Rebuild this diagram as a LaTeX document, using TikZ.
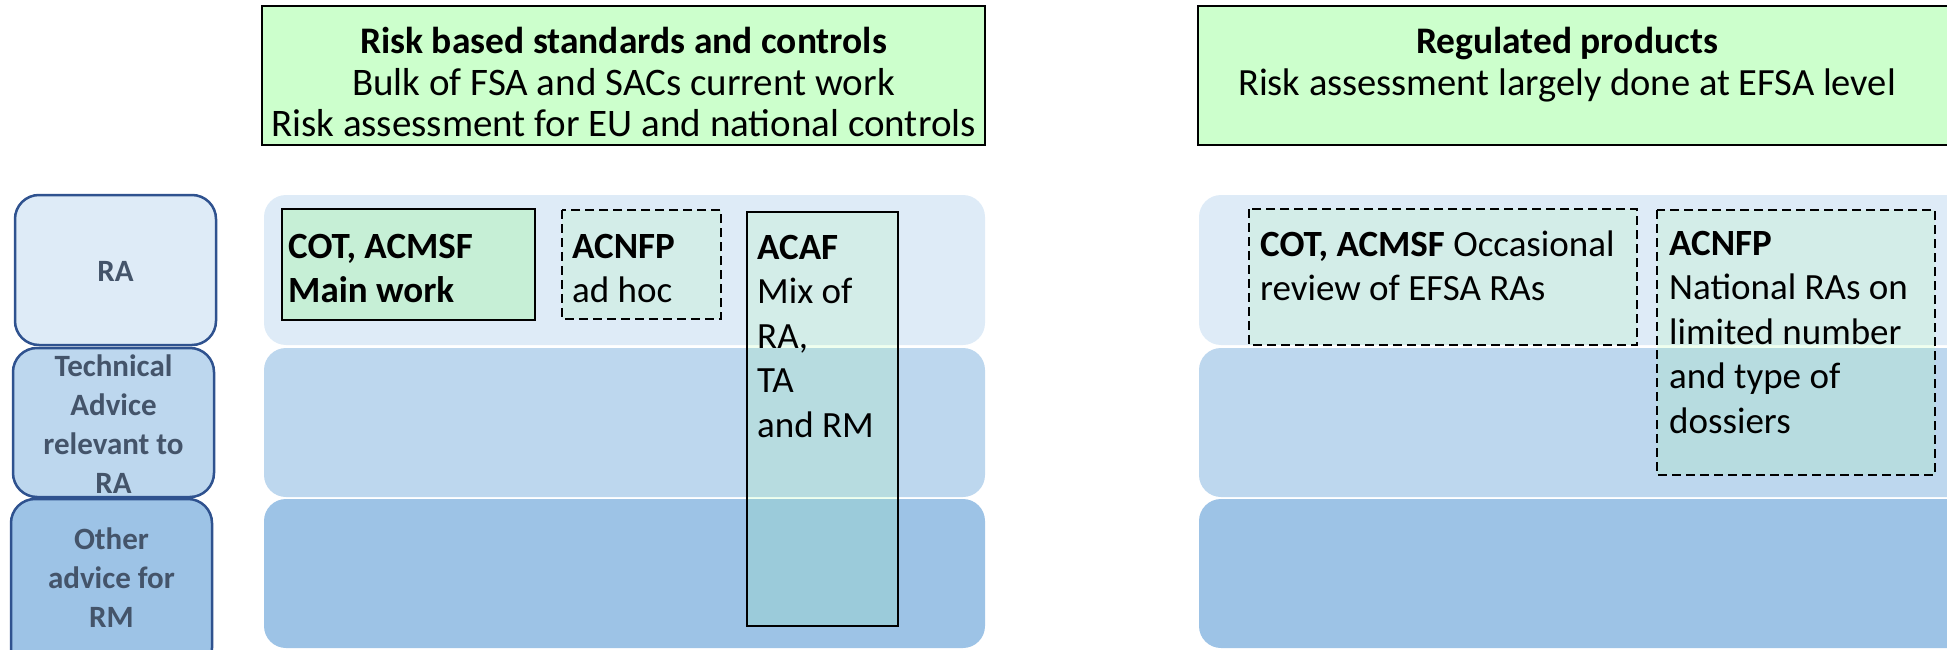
\documentclass[tikz,border=0pt]{standalone}
\usepackage{fontspec}
\setmainfont{Carlito}
\definecolor{topgreen}{HTML}{CCFFCC}
\definecolor{bandA}{HTML}{DEEBF7}
\definecolor{bandB}{HTML}{BDD7EE}
\definecolor{bandC}{HTML}{9DC3E6}
\definecolor{labborder}{HTML}{2F528F}
\definecolor{labtextcol}{HTML}{44546A}
\definecolor{cotgreen}{HTML}{C6EFD6}
\definecolor{tintgreen}{RGB}{150,255,150}
\newcommand\bodyfont{\fontsize{37}{44.5}\selectfont}
\newcommand\labfont{\fontsize{31}{39}\selectfont\bfseries}
\newcommand\tbox[2]{\parbox[t]{#1}{\raggedright #2}}
\begin{document}
\begin{tikzpicture}[x=1pt,y=-1pt,
  band/.style={rounded corners=22pt},
  labbox/.style={draw=labborder, line width=2.5pt, rounded corners=24pt},
  labtext/.style={text=labtextcol, font=\labfont, align=center, inner sep=0pt},
  topbox/.style={draw=black, line width=2.8pt, fill=topgreen},
  solidbox/.style={draw=black, line width=2.8pt},
  dashbox/.style={draw=black, line width=2.8pt, dash pattern=on 9pt off 5pt},
  tint/.style={fill=tintgreen, fill opacity=0.15},
  txt/.style={anchor=base west, inner sep=0pt, font=\bodyfont},
  ctxt/.style={anchor=base, inner sep=0pt}]
\useasboundingbox (0,0) rectangle (1947,650);
\clip (0,0) rectangle (1947,650);
% bands left
\fill[band, bandA] (264,195) rectangle (985,345);
\fill[band, bandB] (264,348) rectangle (985,497);
\fill[band, bandC] (264,499) rectangle (985,648);
% bands right
\fill[band, bandA] (1199,195) rectangle (1975,345);
\fill[band, bandB] (1199,348) rectangle (1975,497);
\fill[band, bandC] (1199,499) rectangle (1975,648);
% row labels
\draw[labbox, fill=bandA] (15,195) rectangle (216,345);
\draw[labbox, fill=bandB] (13,348) rectangle (214,497);
\draw[labbox, fill=bandC] (11,499) rectangle (212,672);
\node[labtext] (lra) at (115.5,271) {RA};
\node[labtext] (lta) at (113.5,424) {Technical\\Advice\\relevant to\\RA};
\node[labtext] (lrm) at (111.5,578) {Other\\advice for\\RM};
% top boxes
\draw[topbox] (262,6) rectangle (985,145);
\node[ctxt] (toplt) at (623.5,54) {\parbox[t]{720pt}{\centering
  \fontsize{37.5}{41.5}\selectfont\textbf{Risk based standards and controls}\\
  \fontsize{39}{41.5}\selectfont Bulk of FSA and SACs current work\\
  Risk assessment for EU and national controls}};
\draw[topbox] (1198,6) rectangle (1975,145);
\node[ctxt] (toprt) at (1567,54) {\parbox[t]{740pt}{\centering
  \fontsize{37.5}{41.5}\selectfont\textbf{Regulated products}\\
  \fontsize{38.5}{41.5}\selectfont Risk assessment largely done at EFSA level}};
% left inner boxes
\draw[solidbox, fill=cotgreen] (282,209) rectangle (535,320);
\node[txt] (cotl) at (288,258) {\tbox{240pt}{\bfseries COT, ACMSF\\Main work}};
\draw[dashbox, tint] (562,210) rectangle (721,319);
\node[txt] (acnfpl) at (572,258) {\tbox{145pt}{\textbf{ACNFP}\\ad hoc}};
\draw[solidbox, tint] (747,212) rectangle (898,626);
\node[txt] (acaf) at (757,259) {\tbox{140pt}{\textbf{ACAF}\\Mix of\\RA,\\TA\\and RM}};
% right inner boxes
\draw[dashbox, tint] (1249,209) rectangle (1637,345);
\node[txt] (cotr) at (1260,256) {\tbox{380pt}{\textbf{COT, ACMSF} Occasional\\review of EFSA RAs}};
\draw[dashbox, tint] (1657,210) rectangle (1935,475);
\node[txt] (acnfpr) at (1669,255) {\tbox{265pt}{\textbf{ACNFP}\\National RAs on\\limited number\\and type of\\dossiers}};
\end{tikzpicture}
\end{document}
